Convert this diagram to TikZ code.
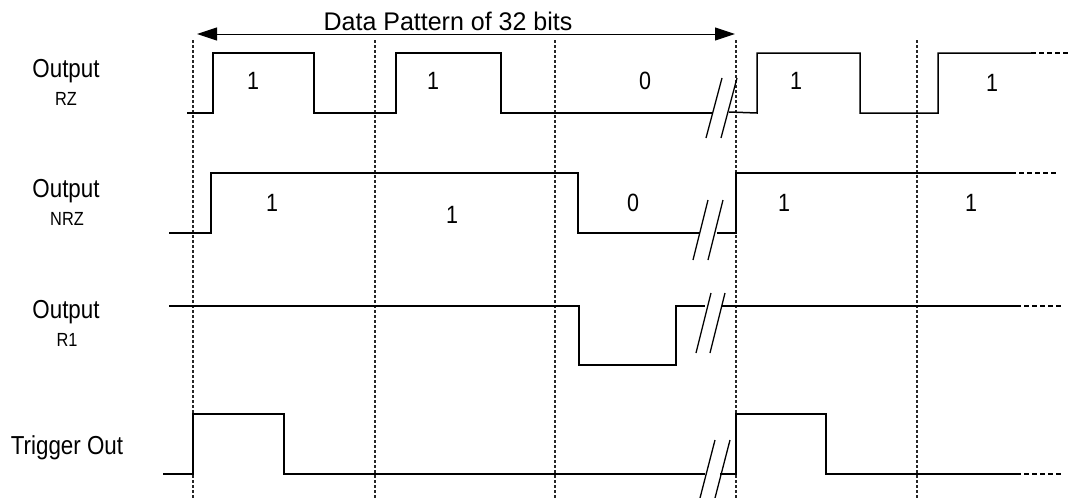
\documentclass[tikz,border=0pt]{standalone}
\usepackage{fontspec}
\setmainfont{Liberation Sans}
\newfontfamily\condfont[FakeStretch=0.86]{Liberation Sans}
\newfontfamily\titlefont[FakeStretch=0.98]{Liberation Sans}
\usetikzlibrary{arrows.meta}
\begin{document}
\begin{tikzpicture}[x=1pt,y=-1pt,
  sig/.style={line width=1.5pt, line join=miter},
  gridline/.style={line width=1.2pt, dash pattern=on 3pt off 2pt, black!85},
  ext/.style={line width=1.3pt, dash pattern=on 5pt off 3pt},
  brk/.style={line width=1.3pt},
  lab/.style={font=\condfont\fontsize{26}{26}\selectfont, inner sep=0pt},
  dig/.style={font=\condfont\fontsize{25}{25}\selectfont, inner sep=0pt},
  sub/.style={font=\condfont\fontsize{19}{19}\selectfont, inner sep=0pt}]
\useasboundingbox (0,0) rectangle (1069,498);
% grid
\foreach \x in {193,375,555,736,917} \draw[gridline] (\x,40) -- (\x,498);
% arrow
\coordinate (al) at (197,34);
\coordinate (ar) at (735,34);
\draw[line width=1pt, {Triangle[length=20pt,width=13pt]}-{Triangle[length=20pt,width=13pt]}] (al) -- (ar);
\node[inner sep=0pt, font=\titlefont\fontsize{25.5}{25.5}\selectfont] (title) at (448,21) {Data Pattern of 32 bits};
% labels
\node[lab] (o1) at (66,71) {Output};
\node[sub] (s1) at (66,99) {RZ};
\node[lab] (o2) at (66,191) {Output};
\node[sub] (s2) at (67,219) {NRZ};
\node[lab] (o3) at (66,312) {Output};
\node[sub] (s3) at (67,340) {R1};
\node[lab] (o4) at (67,448) {Trigger Out};
% RZ
\draw[sig] (187,113) -- (213,113) -- (213,53) -- (314,53) -- (314,113) -- (396,113) -- (396,53) -- (501,53) -- (501,113) -- (712,113);
\draw[sig] (729,112) -- (757,113) -- (757,53) -- (860,53) -- (860,113) -- (938,113) -- (938,53) -- (1031,53);
\draw[ext] (1031,53) -- (1069,53);
\draw[brk] (722,78) -- (706,138);
\draw[brk] (737,78) -- (721,138);
\node[dig] (rz1) at (253,81) {1};
\node[dig] (rz2) at (433,81) {1};
\node[dig] (rz3) at (645,81) {0};
\node[dig] (rz4) at (796,81) {1};
\node[dig] (rz5) at (992,83) {1};
% NRZ
\draw[sig] (169,233) -- (211,233) -- (211,173) -- (578,173) -- (578,233) -- (700,233);
\draw[sig] (717,233) -- (736,233) -- (736,173) -- (1011,173);
\draw[ext] (1011,173) -- (1056,173);
\draw[brk] (708,200) -- (693,260);
\draw[brk] (723,200) -- (708,260);
\node[dig] (n1) at (272,203) {1};
\node[dig] (n2) at (452,215) {1};
\node[dig] (n3) at (633,203) {0};
\node[dig] (n4) at (784,203) {1};
\node[dig] (n5) at (971,203) {1};
% R1
\draw[sig] (169,306) -- (579,306) -- (579,365) -- (676,365) -- (676,306) -- (705,306);
\draw[sig] (722,306) -- (1016,306);
\draw[ext] (1016,306) -- (1062,306);
\draw[brk] (711,293) -- (696,353);
\draw[brk] (725,293) -- (710,353);
% Trigger
\draw[sig] (163,474) -- (193,474) -- (193,414) -- (284,414) -- (284,474) -- (705,474);
\draw[sig] (720,474) -- (736,474) -- (736,414) -- (826,414) -- (826,474) -- (1016,474);
\draw[ext] (1016,474) -- (1062,474);
\draw[brk] (715,440) -- (700,498);
\draw[brk] (730,440) -- (715,498);
\end{tikzpicture}
\end{document}
